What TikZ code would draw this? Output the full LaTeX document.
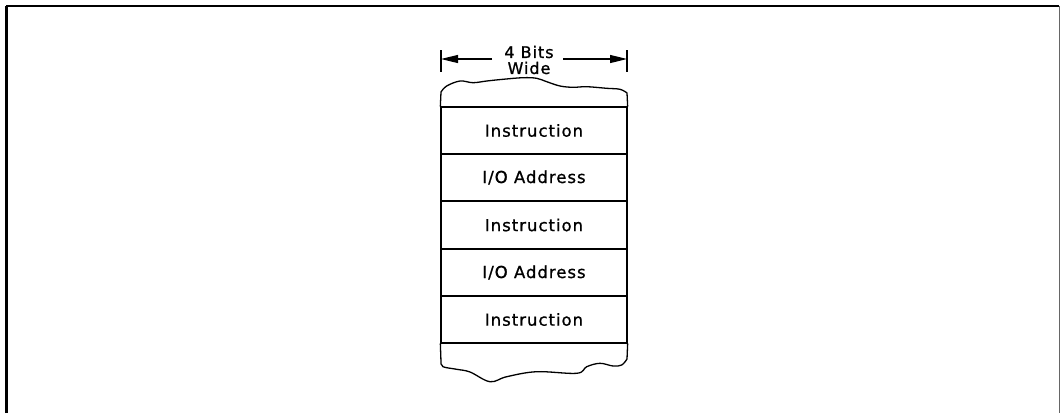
\documentclass[tikz,border=0pt]{standalone}
\usepackage{fontspec}
\usetikzlibrary{arrows.meta}
\newfontfamily\lblfont[LetterSpace=6,FakeBold=1]{DejaVu Sans}
\begin{document}
\begin{tikzpicture}[x=1pt,y=-1pt,
  cell/.style={draw,line width=1.3pt,minimum width=186pt,minimum height=47pt,inner sep=0pt,font=\lblfont\fontsize{16.5}{18}\selectfont},
  lbl/.style={font=\lblfont\fontsize{16}{16}\selectfont,align=center,inner sep=0pt},
  edge/.style={line width=1.3pt,line join=round,line cap=round},
  dimarrow/.style={line width=1.2pt,-{Triangle[length=17pt,width=8pt]}}]
\useasboundingbox (0,0) rectangle (1060,413);
% frame
\draw[line width=3pt] (6,413) -- (6,6);
\draw[line width=2pt] (6,6) -- (1059,6);
\draw[line width=0.8pt,black!60] (1059,6) -- (1059,413);
% memory cells
\node[cell] (c1) at (534,130.5) {Instruction};
\node[cell] (c2) at (534,177.5) {I/O Address};
\node[cell] (c3) at (534,225) {Instruction};
\node[cell] (c4) at (534,272.5) {I/O Address};
\node[cell] (c5) at (534,319.5) {Instruction};
% torn outline
\draw[edge] (c1.north west) -- (441,92)
  plot[smooth,tension=0.6] coordinates {(441,92) (446.7,86) (460,81) (473,82.7) (486.7,81) (503,79.3) (523,77.7) (536.7,78.3) (546.7,81.7) (560,86) (573,87.3) (586.7,86.7) (606.7,88.3) (620,89.3) (627,93)}
  -- (c1.north east);
\draw[edge] (c5.south west) -- (441,362)
  plot[smooth,tension=0.6] coordinates {(441,362) (443,366.7) (456.7,369.3) (470,372) (490,381.7) (506.7,376.7) (536.7,371.7) (576.7,373.3) (586.7,366.7) (600,363.3) (613,366) (621.7,365) (627,359)}
  -- (c5.south east);
% width dimension
\node[lbl] (w) at (529,60) {4 Bits\\Wide};
\coordinate (tl) at (441,59);
\coordinate (tr) at (627,59);
\draw[line width=1.3pt] (441,50) -- (441,72);
\draw[line width=1.3pt] (627,50) -- (627,72);
\draw[dimarrow] (492,59) -- (tl);
\draw[dimarrow] (563,59) -- (tr);
\end{tikzpicture}
\end{document}
